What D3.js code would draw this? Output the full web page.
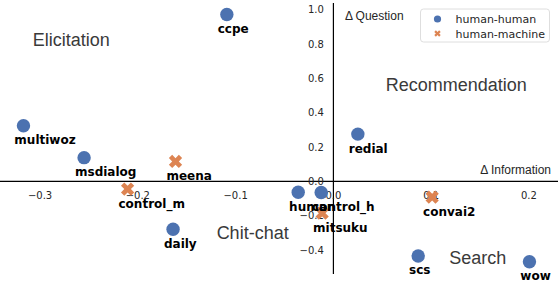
<!DOCTYPE html>
<html>
<head>
<meta charset="utf-8">
<script src="https://cdn.jsdelivr.net/npm/d3@7"></script>
<style>
  body { margin: 0; background: #fff; }
  .tick-label { font-family: "DejaVu Sans", sans-serif; font-size: 10px; fill: #262626; }
  .pt-label { font-family: "DejaVu Sans", sans-serif; font-size: 12px; font-weight: bold; fill: #000; }
  .region { font-family: "Liberation Sans", Arial, sans-serif; font-size: 18px; fill: #3a3a3a; }
  .axis-title { font-family: "Liberation Sans", Arial, sans-serif; font-size: 12px; fill: #262626; }
  .legend text { font-family: "DejaVu Sans", sans-serif; font-size: 11px; fill: #262626; }
</style>
</head>
<body>
<div id="chart"></div>
<script>
// datasets
var names  = ["ccpe", "multiwoz", "msdialog", "meena", "control_m", "daily", "human", "control_h", "mitsuku", "redial", "convai2", "scs", "wow"];
var xs     = [-0.109, -0.317, -0.255, -0.1615, -0.2105, -0.164, -0.036, -0.0125, -0.0115, 0.025, 0.101, 0.0867, 0.2005];
var ys     = [0.971, 0.324, 0.138, 0.116, -0.045, -0.279, -0.063, -0.065, -0.185, 0.275, -0.092, -0.434, -0.468];
var groups = ["human-human", "human-human", "human-human", "human-machine", "human-machine", "human-human",
              "human-human", "human-human", "human-machine", "human-human", "human-machine", "human-human", "human-human"];

var xTicks = [-0.3, -0.2, -0.1, 0.0, 0.1, 0.2];
var yTicks = [-0.4, -0.2, 0.0, 0.2, 0.4, 0.6, 0.8, 1.0];

var regionNames = ["Elicitation", "Recommendation", "Chit-chat", "Search"];
var regionX = [-0.268, 0.1256, -0.0826, 0.1477];
var regionY = [0.825, 0.563, -0.300, -0.442];

var groupNames = ["human-human", "human-machine"];
var colors = ["#4c72b0", "#dd8452"];

var width = 558, height = 283;

var x = d3.scaleLinear().domain([-0.341, 0.2297]).range([0, width]);
var y = d3.scaleLinear().domain([-0.539, 1.038]).range([274, 3]);
var color = d3.scaleOrdinal().domain(groupNames).range(colors);

var svg = d3.select("#chart").append("svg")
  .attr("width", width)
  .attr("height", height);

var fmt = function(d) { return d3.format(".1f")(d).replace("-", "\u2212"); };

// spines through the origin
svg.append("line")
  .attr("x1", x.range()[0]).attr("x2", x.range()[1])
  .attr("y1", y(0)).attr("y2", y(0))
  .attr("stroke", "#000").attr("stroke-width", 1.2);
svg.append("line")
  .attr("x1", x(0)).attr("x2", x(0))
  .attr("y1", y.range()[0]).attr("y2", y.range()[1])
  .attr("stroke", "#000").attr("stroke-width", 1.2);

svg.selectAll(".xtick")
  .data(xTicks)
  .enter().append("text")
  .attr("class", "tick-label")
  .attr("x", function(d) { return x(d); })
  .attr("y", y(0) + 17.5)
  .style("text-anchor", "middle")
  .text(fmt);

svg.selectAll(".ytick")
  .data(yTicks)
  .enter().append("text")
  .attr("class", "tick-label")
  .attr("x", x(0) - 9.5)
  .attr("y", function(d) { return y(d) + 3.7; })
  .style("text-anchor", "end")
  .text(fmt);

svg.append("text").attr("class", "axis-title")
  .attr("x", x(0) + 11.5).attr("y", 19.5)
  .text("\u0394 Question");
svg.append("text").attr("class", "axis-title")
  .attr("x", 551).attr("y", y(0) - 7)
  .style("text-anchor", "end")
  .text("\u0394 Information");

svg.selectAll(".region")
  .data(regionNames)
  .enter().append("text")
  .attr("class", "region")
  .attr("x", function(d, i) { return x(regionX[i]); })
  .attr("y", function(d, i) { return y(regionY[i]) + 6.5; })
  .style("text-anchor", "middle")
  .text(function(d) { return d; });

var cross = d3.symbol().type(d3.symbolCross);

var pts = svg.selectAll(".pt")
  .data(names)
  .enter().append("g")
  .attr("transform", function(d, i) { return "translate(" + x(xs[i]) + "," + y(ys[i]) + ")"; });

pts.filter(function(d, i) { return groups[i] === "human-human"; })
  .append("circle")
  .attr("r", 6.7)
  .style("fill", color("human-human"));

pts.filter(function(d, i) { return groups[i] === "human-machine"; })
  .append("path")
  .attr("d", cross.size(110)())
  .attr("transform", "rotate(45)")
  .style("fill", color("human-machine"));

// labels start a little left of each point, as in the original annotate calls
svg.selectAll(".pt-label")
  .data(names)
  .enter().append("text")
  .attr("class", "pt-label")
  .attr("x", function(d, i) { return x(xs[i] - 0.0093); })
  .attr("y", function(d, i) { return y(ys[i]) + 18.5; })
  .text(function(d) { return d; });

// legend
var legend = svg.append("g").attr("class", "legend")
  .attr("transform", "translate(420.5,9)");
legend.append("rect")
  .attr("width", 129).attr("height", 33)
  .attr("rx", 3).attr("ry", 3)
  .style("fill", "#fff").style("fill-opacity", 0.8)
  .style("stroke", "#d6d6d6").style("stroke-width", 0.8);

var item = legend.selectAll(".item")
  .data(groupNames)
  .enter().append("g")
  .attr("transform", function(d, i) { return "translate(0," + (10 + i * 14.5) + ")"; });

item.filter(function(d, i) { return i === 0; }).append("circle")
  .attr("cx", 17).attr("r", 3.6)
  .style("fill", function(d) { return color(d); });
item.filter(function(d, i) { return i === 1; }).append("path")
  .attr("d", cross.size(26)())
  .attr("transform", "translate(17,0) rotate(45)")
  .style("fill", function(d) { return color(d); });

item.append("text")
  .attr("x", 35).attr("y", 4)
  .text(function(d) { return d; });
</script>
</body>
</html>
